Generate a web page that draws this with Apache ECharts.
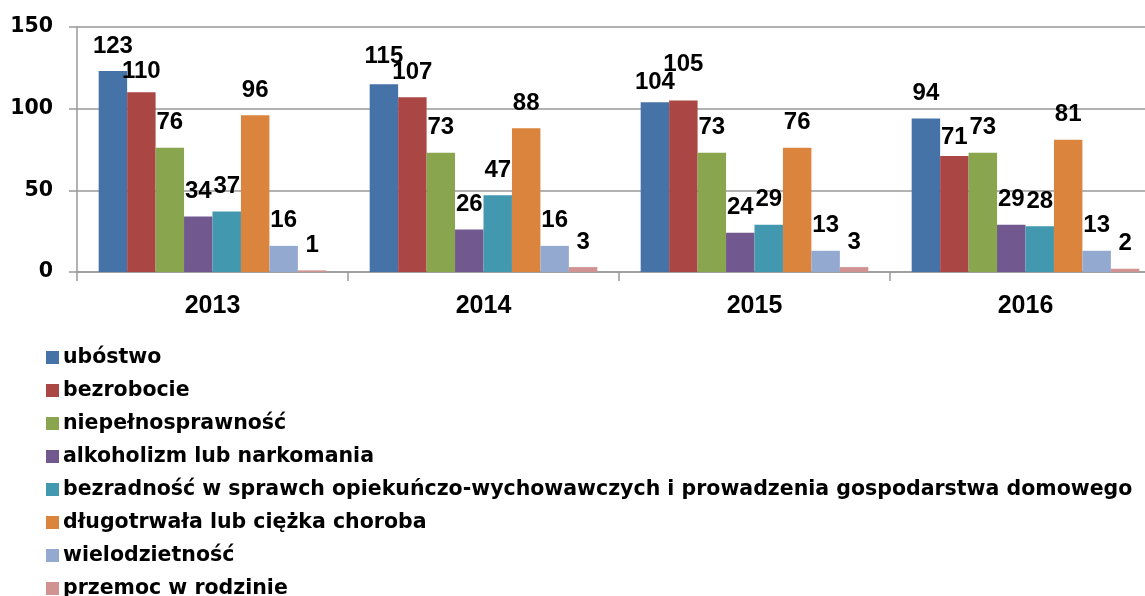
<!DOCTYPE html>
<html>
<head>
<meta charset="utf-8">
<script src="https://cdn.jsdelivr.net/npm/echarts@6/dist/echarts.min.js"></script>
<style>
    html, body {margin: 0; padding: 0; background: #fff; overflow: hidden;}
    #chart {width: 1161px; height: 596px;}
</style>
</head>
<body>
<div id="chart"></div>
<script>
const years = ['2013', '2014', '2015', '2016'];
const seriesNames = [
    'ubóstwo',
    'bezrobocie',
    'niepełnosprawność',
    'alkoholizm lub narkomania',
    'bezradność w sprawch opiekuńczo-wychowawczych i prowadzenia gospodarstwa domowego',
    'długotrwała lub ciężka choroba',
    'wielodzietność',
    'przemoc w rodzinie'
];
const ubostwo = [123, 115, 104, 94];
const bezrobocie = [110, 107, 105, 71];
const niepelnosprawnosc = [76, 73, 73, 73];
const alkoholizm = [34, 26, 24, 29];
const bezradnosc = [37, 47, 29, 28];
const choroba = [96, 88, 76, 81];
const wielodzietnosc = [16, 16, 13, 13];
const przemoc = [1, 3, 3, 2];
const yTicks = [0, 50, 100, 150];

const colors = ['#4572a7', '#aa4643', '#89a54e', '#71588f', '#4198af', '#db843d', '#93a9cf', '#d19392'];
const values = [ubostwo, bezrobocie, niepelnosprawnosc, alkoholizm, bezradnosc, choroba, wielodzietnosc, przemoc];

// przesunięcia etykiet (seria-rok -> px w pionie), jak w oryginale
const labelShift = {'0-1': -3, '0-2': 5, '1-0': 4, '1-2': -11, '1-3': 6};

const chart = echarts.init(document.getElementById('chart'));

const series = [];
for (let i = 0; i < seriesNames.length; i++) {
    series.push({
        name: seriesNames[i],
        type: 'bar',
        data: values[i].map((v, j) => ({
            value: v,
            label: {offset: [0, labelShift[i + '-' + j] || 0]}
        })),
        barGap: '0%',
        barCategoryGap: '16%',
        itemStyle: {color: colors[i]},
        label: {
            show: true,
            position: 'top',
            distance: 13,
            color: '#000',
            fontFamily: '"Liberation Sans", Arial, sans-serif',
            fontWeight: 'bold',
            fontSize: 24
        }
    });
}

const option = {
    animation: false,
    color: colors,
    grid: {
        left: 77,
        top: 27,
        bottom: 324,
        right: 0
    },
    legend: {
        orient: 'vertical',
        left: 46,
        top: 347,
        height: 300,
        padding: 0,
        itemWidth: 13,
        itemHeight: 13,
        itemGap: 12,
        icon: 'rect',
        textStyle: {
            fontFamily: '"DejaVu Sans", sans-serif',
            fontWeight: 'bold',
            fontSize: 20.5,
            lineHeight: 20,
            color: '#000',
            padding: [0, 0, 0, -1]
        },
        data: seriesNames
    },
    xAxis: {
        type: 'category',
        data: years,
        axisLine: {lineStyle: {color: '#999', width: 1.5}},
        axisTick: {show: true, length: 9, lineStyle: {color: '#999', width: 1.5}},
        axisLabel: {
            margin: 22,
            color: '#000',
            fontFamily: '"Liberation Sans", Arial, sans-serif',
            fontWeight: 'bold',
            fontSize: 25
        }
    },
    yAxis: {
        type: 'value',
        min: yTicks[0],
        max: yTicks[yTicks.length - 1],
        interval: 50,
        axisLine: {show: true, lineStyle: {color: '#999', width: 1.5}},
        axisTick: {show: true, length: 8, lineStyle: {color: '#999', width: 1.5}},
        splitLine: {show: true, lineStyle: {color: '#999', width: 1.5}},
        axisLabel: {
            margin: 24,
            color: '#000',
            fontFamily: '"DejaVu Sans", sans-serif',
            fontWeight: 'bold',
            fontSize: 20.5
        }
    },
    series: series
};

option && chart.setOption(option);
</script>
</body>
</html>
